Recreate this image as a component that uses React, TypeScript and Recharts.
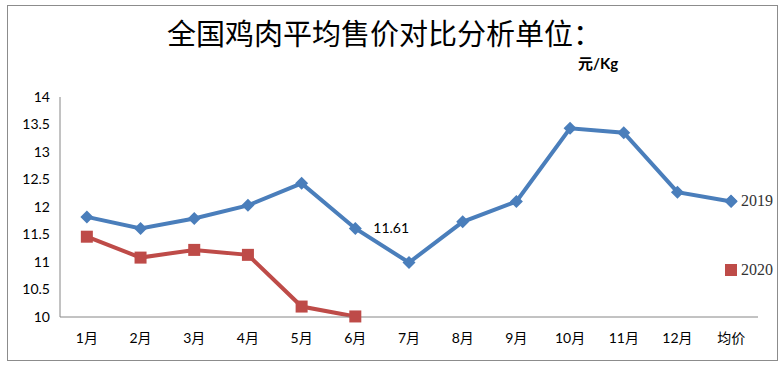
import { LineChart, Line, XAxis, YAxis, LabelList } from 'recharts';

// Months plus the annual average column
const months = ['1月', '2月', '3月', '4月', '5月', '6月', '7月', '8月', '9月', '10月', '11月', '12月', '均价'];
const price2019 = [11.82, 11.61, 11.79, 12.03, 12.43, 11.61, 10.99, 11.73, 12.1, 13.43, 13.35, 12.27, 12.1];
const price2020 = [11.46, 11.08, 11.22, 11.13, 10.19, 10.01, null, null, null, null, null, null, null];
const yTicks = [10, 10.5, 11, 11.5, 12, 12.5, 13, 13.5, 14];
const labelIndex = 5; // only 6月 of 2019 carries a value label

const BLUE = '#4A7EBB';
const RED = '#BE4B48';
const SANS = 'Lato, "Noto Sans CJK SC", sans-serif';
const SERIF = '"Liberation Serif", "DejaVu Serif", serif';

const data = months.map((m, i) => ({ month: m, y2019: price2019[i], y2020: price2020[i] }));

const Diamond = ({ cx, cy }: any) => {
  if (cx == null || cy == null) return null;
  const r = 6.5;
  return <polygon points={`${cx},${cy - r} ${cx + r},${cy} ${cx},${cy + r} ${cx - r},${cy}`} fill={BLUE} />;
};

const Square = ({ cx, cy }: any) => {
  if (cx == null || cy == null) return null;
  return <rect x={cx - 6} y={cy - 6} width={12} height={12} fill={RED} />;
};

const ValueLabel = ({ x, y, value, index }: any) => {
  if (index !== labelIndex) return null;
  return (
    <text x={x + 18} y={y + 5} fontSize={14} fontFamily={SANS} fill="#000">
      {value}
    </text>
  );
};

export default function App() {
  return (
    <div style={{ position: 'absolute', left: 0, top: 0, width: 781, height: 373, background: '#fff' }}>
      <div
        style={{
          position: 'absolute', left: 7, top: 5, width: 771, height: 356,
          border: '1px solid #8c8c8c', boxSizing: 'border-box',
        }}
      />
      <div
        style={{
          position: 'absolute', left: 167, top: 18, fontSize: 29, lineHeight: '29px',
          fontFamily: '"Noto Sans CJK SC", sans-serif', color: '#000', whiteSpace: 'nowrap',
        }}
      >
        全国鸡肉平均售价对比分析单位：
      </div>
      <div
        style={{
          position: 'absolute', left: 578, top: 55, fontSize: 15, lineHeight: '16px', fontWeight: 700,
          fontFamily: SANS, color: '#000', whiteSpace: 'nowrap',
        }}
      >
        元/Kg
      </div>

      <div style={{ position: 'absolute', left: 0, top: 0 }}>
        <LineChart width={781} height={373} data={data} margin={{ top: 97, right: 23, bottom: 26, left: 0 }}>
          <XAxis
            dataKey="month"
            height={30}
            padding={{ left: 26.85, right: 26.85 }}
            tickLine={false}
            tickSize={6}
            tickMargin={10}
            axisLine={{ stroke: '#868686' }}
            tick={{ fontSize: 14, fontFamily: SANS, fill: '#000' }}
            interval={0}
          />
          <YAxis
            width={60}
            domain={[10, 14]}
            ticks={yTicks}
            tickLine={false}
            tickSize={6}
            tickMargin={4}
            axisLine={{ stroke: '#868686' }}
            tick={{ fontSize: 14, fontFamily: SANS, fill: '#000' }}
          />
          <Line
            dataKey="y2019"
            stroke={BLUE}
            strokeWidth={4}
            dot={<Diamond />}
            activeDot={false}
            isAnimationActive={false}
          >
            <LabelList dataKey="y2019" content={<ValueLabel />} />
          </Line>
          <Line
            dataKey="y2020"
            stroke={RED}
            strokeWidth={4}
            dot={<Square />}
            activeDot={false}
            connectNulls={false}
            isAnimationActive={false}
          />
        </LineChart>
      </div>

      {/* legend */}
      <div style={{ position: 'absolute', left: 724, top: 191, height: 20, display: 'flex', alignItems: 'center' }}>
        <svg width={14} height={14} style={{ marginRight: 3 }}>
          <polygon points="7,0.5 13.5,7 7,13.5 0.5,7" fill={BLUE} />
        </svg>
        <span style={{ fontFamily: SERIF, fontSize: 16, color: '#333' }}>2019</span>
      </div>
      <div style={{ position: 'absolute', left: 725, top: 260, height: 20, display: 'flex', alignItems: 'center' }}>
        <svg width={12} height={12} style={{ marginRight: 4 }}>
          <rect x={0} y={0} width={12} height={12} fill={RED} />
        </svg>
        <span style={{ fontFamily: SERIF, fontSize: 16, color: '#333' }}>2020</span>
      </div>
    </div>
  );
}
